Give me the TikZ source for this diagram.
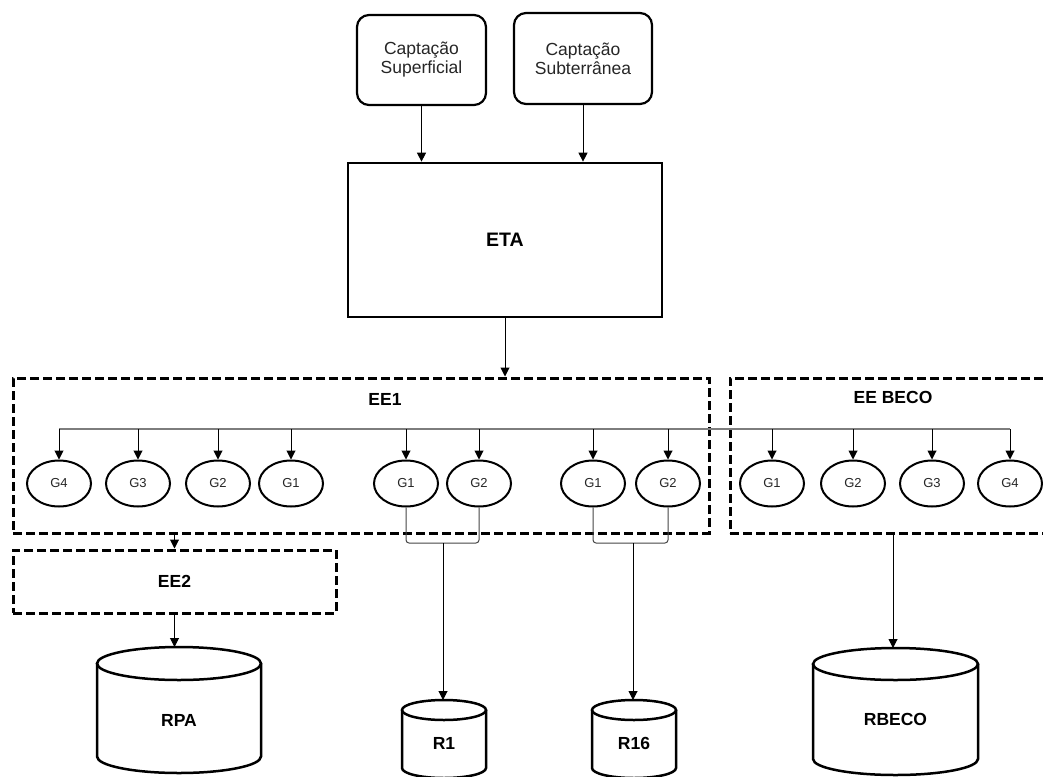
\documentclass[tikz,border=0pt]{standalone}
\usepackage{fontspec}
\setmainfont{Liberation Sans}
\usetikzlibrary{arrows.meta,shapes.geometric,calc}
\definecolor{busgray}{RGB}{125,125,125}
\definecolor{brkgray}{RGB}{70,70,70}
\newcommand\drawcyl[6]{%
  \draw[cylline] (#2,#3+#5) ellipse [x radius=#4, y radius=#5];
  \draw[cylline] (#2-#4,#3+#5) -- (#2-#4,#6-#5) arc[start angle=180,end angle=0,x radius=#4,y radius=#5] -- (#2+#4,#3+#5);
  \coordinate (#1top) at (#2,#3);
}
\begin{document}
\begin{tikzpicture}[x=1pt,y=-1pt,
  arr/.style={draw=black, line width=1pt, -{Triangle[width=9pt,length=9pt]}},
  capbox/.style={draw, line width=2.2pt, rounded corners=12pt, minimum width=129pt, minimum height=90pt, align=center, font=\fontsize{17.5}{19}\selectfont, inner sep=0pt, text=black!85},
  etabox/.style={draw, line width=2.7pt, minimum width=314pt, minimum height=154pt, inner sep=0pt, font=\fontsize{19.5}{22}\bfseries\selectfont},
  dbox/.style={draw, line width=3pt, dash pattern=on 9pt off 4pt, inner sep=0pt},
  blabel/.style={font=\fontsize{17.5}{20}\bfseries\selectfont, inner sep=0pt},
  gen/.style={ellipse, draw, line width=2pt, minimum width=64pt, minimum height=46pt, inner sep=0pt, font=\fontsize{13}{15}\selectfont, text=black!85},
  cylline/.style={draw, line width=2.5pt},
  bus/.style={draw=busgray, line width=1.2pt},
  brk/.style={draw=brkgray, line width=1pt, rounded corners=3pt}
]
\path[use as bounding box, clip] (0,0) rectangle (1043,776);
\fill[white] (0,0) rectangle (1043,776);

% top boxes
\node[capbox] (sup) at (421.5,60) {Captação\\Superficial};
\node[capbox, minimum width=138pt, minimum height=91pt] (sub) at (583,58.5) {Captação\\Subterrânea};
\node[etabox] (eta) at (505,240) {ETA};
\draw[arr] (sup.south) -- (sup.south |- eta.north);
\draw[arr] (sub.south) -- (sub.south |- eta.north);

% stations
\node[dbox, minimum width=696pt, minimum height=155pt] (ee1) at (361,455.5) {};
\node[blabel] (ee1lab) at (385,399) {EE1};
\node[dbox, minimum width=326pt, minimum height=155pt] (eebeco) at (893,455.5) {};
\node[blabel] (eebecolab) at (893,397) {EE BECO};
\node[dbox, minimum width=323pt, minimum height=63pt, font=\fontsize{17.5}{20}\bfseries\selectfont] (ee2) at (174.5,581.5) {EE2};

\draw[arr] (eta.south) -- (eta.south |- ee1.north);
\draw[arr] (ee2.north |- ee1.south) -- (ee2.north);

% generators
\node[gen] (a4) at (59,483.5) {G4};
\node[gen] (a3) at (138,483.5) {G3};
\node[gen] (a2) at (218,483.5) {G2};
\node[gen] (a1) at (291,483.5) {G1};
\node[gen] (m1a) at (406,483.5) {G1};
\node[gen] (m1b) at (479,483.5) {G2};
\node[gen] (m2a) at (593,483.5) {G1};
\node[gen] (m2b) at (668,483.5) {G2};
\node[gen] (b1) at (772,483.5) {G1};
\node[gen] (b2) at (853,483.5) {G2};
\node[gen] (b3) at (932,483.5) {G3};
\node[gen] (b4) at (1010,483.5) {G4};

\coordinate (busL) at (59,429);
\coordinate (busR) at (1010,429);
\draw[bus] (busL) -- (busR);
\foreach \g in {a4,a3,a2,a1,m1a,m1b,m2a,m2b,b1,b2,b3,b4}{
  \draw[arr] (\g.north |- busL) -- (\g.north);
}

% reservoirs
\drawcyl{rpa}{179}{647}{82}{16.5}{773}
\node[blabel] (rpalab) at (179,720) {RPA};
\drawcyl{rone}{444}{700}{42}{10}{778}
\node[blabel] (r1lab) at (444,743) {R1};
\drawcyl{rsixteen}{634}{700}{42}{10}{778}
\node[blabel] (r16lab) at (634,743) {R16};
\drawcyl{rbeco}{895.5}{648}{82.5}{16}{775}
\node[blabel] (rbecolab) at (895.5,719) {RBECO};

% brackets
\coordinate (br1) at (443,543);
\coordinate (br2) at (633,543);
\draw[brk] (m1a.south) |- (br1) -| (m1b.south);
\draw[brk] (m2a.south) |- (br2) -| (m2b.south);
\draw[arr] (br1) -- (br1 |- ronetop);
\draw[arr] (br2) -- (br2 |- rsixteentop);

\draw[arr] (ee2.south) -- (ee2.south |- rpatop);
\draw[arr] (eebeco.south) -- (eebeco.south |- rbecotop);
\end{tikzpicture}
\end{document}
